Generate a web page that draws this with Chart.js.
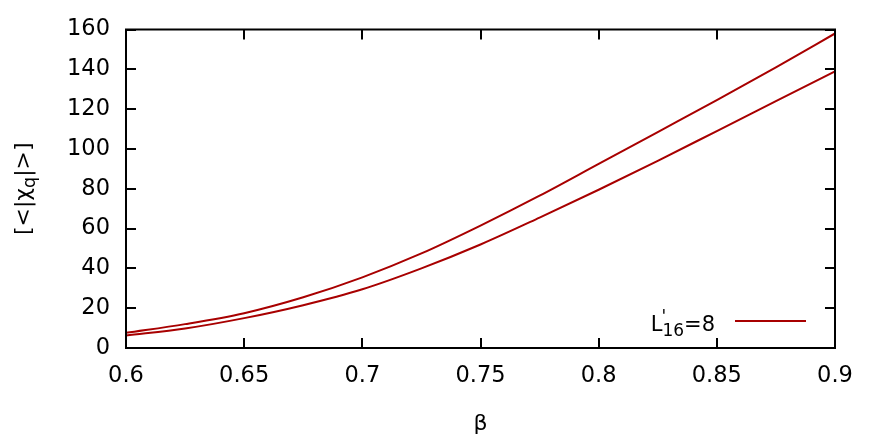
<!DOCTYPE html>
<html><head><meta charset="utf-8">
<script src="https://cdn.jsdelivr.net/npm/chart.js@4"></script>
<style>html,body{margin:0;padding:0;background:#fff}#wrap{width:880px;height:440px}</style>
</head><body><div id="wrap"><canvas id="c" width="880" height="440"></canvas></div>
<script>
const beta = [0.600, 0.625, 0.650, 0.675, 0.700, 0.725, 0.750, 0.775, 0.800, 0.825, 0.850, 0.875, 0.900];
const upperCurve = [7.6, 12.0, 17.5, 25.5, 35.5, 47.5, 61.5, 76.5, 92.5, 108.5, 124.5, 141.0, 158.0];
const lowerCurve = [6.3, 9.8, 15.0, 21.5, 29.5, 40.0, 52.0, 65.5, 79.5, 94.0, 109.0, 124.0, 139.0];
const xTicks = [0.6, 0.65, 0.7, 0.75, 0.8, 0.85, 0.9];
const yTicks = [0, 20, 40, 60, 80, 100, 120, 140, 160];

const FONT = 'DejaVu Sans';
const FS = 22.5;
const RED = '#a80000';
const f = (s) => s + 'px "' + FONT + '"';

const frame = {
  id: 'frame',
  afterDraw(chart) {
    const ctx = chart.ctx, a = chart.chartArea;
    const xs = chart.scales.x, ys = chart.scales.y;
    ctx.save();
    ctx.strokeStyle = '#000';
    ctx.lineWidth = 2;
    const T = 10;
    ctx.beginPath();
    xTicks.forEach(v => {
      const px = Math.round(xs.getPixelForValue(v));
      ctx.moveTo(px, a.bottom); ctx.lineTo(px, a.bottom - T);
      ctx.moveTo(px, a.top); ctx.lineTo(px, a.top + T);
    });
    yTicks.forEach(v => {
      const py = Math.round(ys.getPixelForValue(v));
      ctx.moveTo(a.left, py); ctx.lineTo(a.left + T, py);
      ctx.moveTo(a.right, py); ctx.lineTo(a.right - T, py);
    });
    ctx.stroke();
    ctx.strokeRect(a.left, a.top, a.right - a.left, a.bottom - a.top);

    // axis titles
    ctx.fillStyle = '#000';
    ctx.font = f(22);
    ctx.textAlign = 'center';
    ctx.textBaseline = 'alphabetic';
    ctx.fillText('β', (a.left + a.right) / 2, 430);

    // y title rotated: [<|χq|>] with q subscript
    ctx.save();
    ctx.translate(30, (a.top + a.bottom) / 2);
    ctx.rotate(-Math.PI / 2);
    const p1 = '[<|χ', sub = 'q', p2 = '|>]';
    ctx.font = f(22);
    const w1 = ctx.measureText(p1).width;
    const w3 = ctx.measureText(p2).width;
    ctx.font = f(17.5);
    const w2 = ctx.measureText(sub).width;
    let x0 = -(w1 + w2 + w3) / 2;
    ctx.textAlign = 'left';
    ctx.font = f(22);
    ctx.fillText(p1, x0, 0);
    ctx.font = f(17.5);
    ctx.fillText(sub, x0 + w1, 5);
    ctx.font = f(22);
    ctx.fillText(p2, x0 + w1 + w2, 0);
    ctx.restore();

    // legend
    const ly = 321;
    ctx.strokeStyle = RED;
    ctx.lineWidth = 2;
    ctx.beginPath(); ctx.moveTo(735, ly); ctx.lineTo(806, ly); ctx.stroke();
    ctx.fillStyle = '#000';
    ctx.textAlign = 'left';
    const base = 331;
    const LF = 21, SF = 17;
    ctx.font = f(LF);
    const wL = ctx.measureText('L').width;
    const wEq = ctx.measureText('=8').width;
    ctx.font = f(SF);
    const w16 = ctx.measureText('16').width;
    const right = 715;
    let lx = right - wEq - w16 - wL;
    ctx.font = f(LF);
    ctx.fillText('L', lx, base);
    ctx.font = f(SF);
    ctx.fillText("'", lx + wL - 1, base - 9);
    ctx.fillText('16', lx + wL, base + 5);
    ctx.font = f(LF);
    ctx.fillText('=8', lx + wL + w16, base);
    ctx.restore();
  }
};

new Chart(document.getElementById('c'), {
  type: 'line',
  data: {
    datasets: [
      { label: "L'16=8", data: beta.map((b, i) => ({x: b, y: upperCurve[i]})), borderColor: RED, borderWidth: 2, pointRadius: 0, cubicInterpolationMode: 'monotone', fill: false },
      { label: 'lower', data: beta.map((b, i) => ({x: b, y: lowerCurve[i]})), borderColor: RED, borderWidth: 2, pointRadius: 0, cubicInterpolationMode: 'monotone', fill: false }
    ]
  },
  options: {
    responsive: false,
    animation: false,
    layout: { padding: { left: 0, right: 45, top: 29, bottom: 0 } },
    plugins: { legend: { display: false }, tooltip: { enabled: false } },
    scales: {
      x: {
        type: 'linear', min: 0.6, max: 0.9,
        afterFit: s => { s.height = 92; },
        afterBuildTicks: s => { s.ticks = xTicks.map(v => ({value: v})); },
        grid: { display: false, drawTicks: false },
        border: { display: false },
        ticks: { color: '#000', font: { family: FONT, size: FS }, padding: 15, maxRotation: 0, autoSkip: false, callback: v => String(+v.toFixed(2)) }
      },
      y: {
        type: 'linear', min: 0, max: 160,
        afterFit: s => { s.width = 126; },
        afterBuildTicks: s => { s.ticks = yTicks.map(v => ({value: v})); },
        grid: { display: false, drawTicks: false },
        border: { display: false },
        ticks: { color: '#000', font: { family: FONT, size: FS }, padding: 16, autoSkip: false }
      }
    }
  },
  plugins: [frame]
});
</script></body></html>
